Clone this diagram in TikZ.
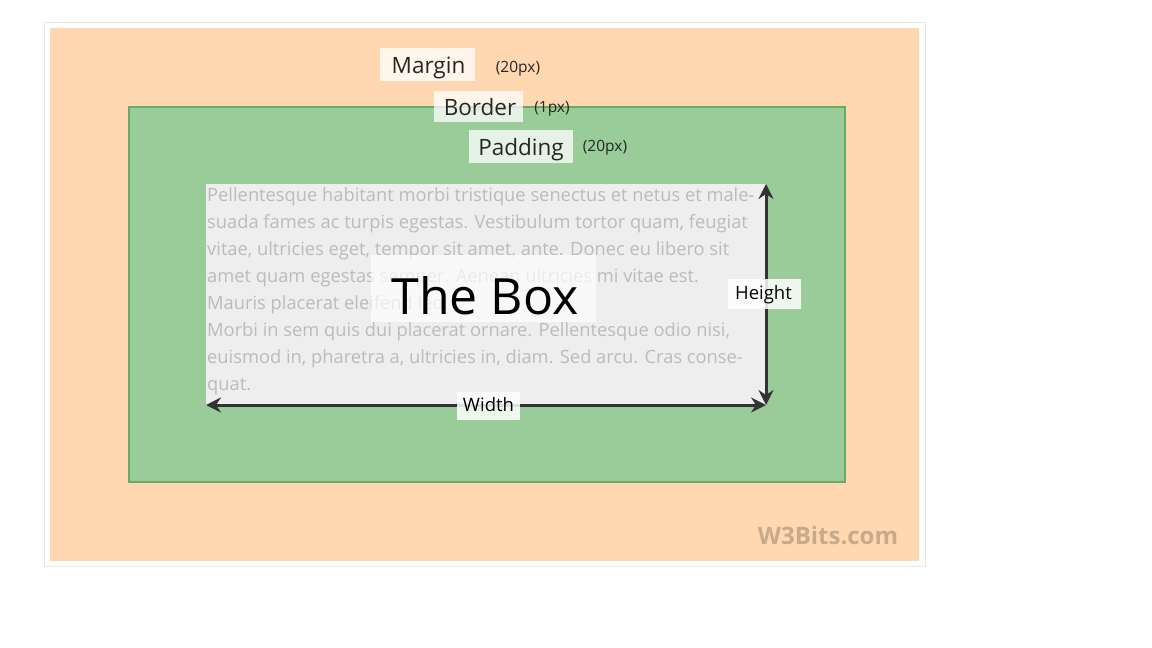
\documentclass[tikz,border=0pt]{standalone}
\usepackage{fontspec}
\setmainfont{Open Sans}
\usetikzlibrary{arrows.meta}
\definecolor{peach}{HTML}{FFD8B1}
\definecolor{boxgreen}{HTML}{99CC99}
\definecolor{greenline}{HTML}{66AA66}
\definecolor{content}{HTML}{EEEEEE}
\definecolor{paratext}{HTML}{BBBBBB}
\definecolor{arrowc}{HTML}{333333}
\definecolor{frame}{HTML}{E8E8E8}
\definecolor{wm}{HTML}{C9A98B}
\tikzset{
  lblbox/.style={fill=white, fill opacity=0.75, inner sep=0pt},
  lbl/.style={anchor=base, inner sep=0pt, font=\fontsize{22.5}{22.5}\selectfont, text=black!85},
  smalllbl/.style={anchor=base, inner sep=0pt, font=\fontsize{15.5}{15.5}\selectfont, text=black!85},
  dimlbl/.style={anchor=base, inner sep=0pt, font=\fontsize{18.5}{18.5}\selectfont, text=black},
  paraline/.style={anchor=base west, inner sep=0pt, font=\fontsize{18.3}{18.3}\selectfont, text=paratext},
  dimarrow/.style={draw=arrowc, line width=3pt, {Stealth[length=15pt,width=15pt,inset=5pt]}-{Stealth[length=15pt,width=15pt,inset=5pt]}}
}
\begin{document}
\begin{tikzpicture}[x=1pt,y=-1pt]
\useasboundingbox (0,0) rectangle (1152,648);
\fill[white] (0,0) rectangle (1152,648);
\draw[frame, line width=1pt] (44.5,22.5) rectangle (925.5,566.5);
\fill[peach] (50,28) rectangle (919,561);
\draw[fill=boxgreen, draw=greenline, line width=2pt] (129,107) rectangle (845,482);
\fill[content] (206,184) rectangle (766,405);
% paragraph
\node[paraline] (l1) at (207,201) {Pellentesque habitant morbi tristique senectus et netus et male-};
\node[paraline] (l2) at (207,228) {suada fames ac turpis egestas. Vestibulum tortor quam, feugiat};
\node[paraline] (l3) at (207,255) {vitae, ultricies eget, tempor sit amet, ante. Donec eu libero sit};
\node[paraline] (l4) at (207,282) {amet quam egestas semper. Aenean ultricies mi vitae est.};
\node[paraline] (l5) at (207,309) {Mauris placerat eleifend leo.};
\node[paraline] (l6) at (207,336) {Morbi in sem quis dui placerat ornare. Pellentesque odio nisi,};
\node[paraline] (l7) at (207,363) {euismod in, pharetra a, ultricies in, diam. Sed arcu. Cras conse-};
\node[paraline] (l8) at (207,390) {quat.};
% The Box
\node[fill=white, fill opacity=0.7, minimum width=225pt, minimum height=67pt, inner sep=0pt] (thebox) at (483.5,288.5) {};
\node[anchor=base, inner sep=0pt, font=\fontsize{50}{50}\selectfont, text=black] (boxtext) at (485,314) {The Box};
% labels
\node[lblbox, minimum width=95pt, minimum height=33pt] (marginbox) at (427.5,64.5) {};
\node[lbl] (margin) at (428.5,73) {Margin};
\node[smalllbl] (marginpx) at (518,72) {(20px)};
\node[lblbox, minimum width=89pt, minimum height=31pt] (borderbox) at (478.5,106.5) {};
\node[lbl] (border) at (480,115) {Border};
\node[smalllbl] (borderpx) at (552,112) {(1px)};
\node[lblbox, minimum width=104pt, minimum height=33pt] (paddingbox) at (521,146.5) {};
\node[lbl] (padding) at (521,155) {Padding};
\node[smalllbl] (paddingpx) at (605,151) {(20px)};
% dimension arrows
\coordinate (tl) at (206,405);
\coordinate (br) at (766,405);
\coordinate (tr) at (766,184);
\draw[dimarrow] (tl) -- (br);
\draw[dimarrow] (tr) -- (br);
\node[lblbox, fill opacity=0.85, minimum width=63pt, minimum height=28pt] (widthbox) at (488.5,405.5) {};
\node[dimlbl] (width) at (488.5,411.5) {Width};
\node[lblbox, fill opacity=0.85, minimum width=73pt, minimum height=30pt] (heightbox) at (764.5,293.5) {};
\node[dimlbl] (height) at (763.5,299.5) {Height};
% watermark
\node[anchor=base, inner sep=0pt, font=\fontsize{24}{24}\selectfont\bfseries, text=wm] (w3) at (828,544) {W3Bits.com};
\end{tikzpicture}
\end{document}
